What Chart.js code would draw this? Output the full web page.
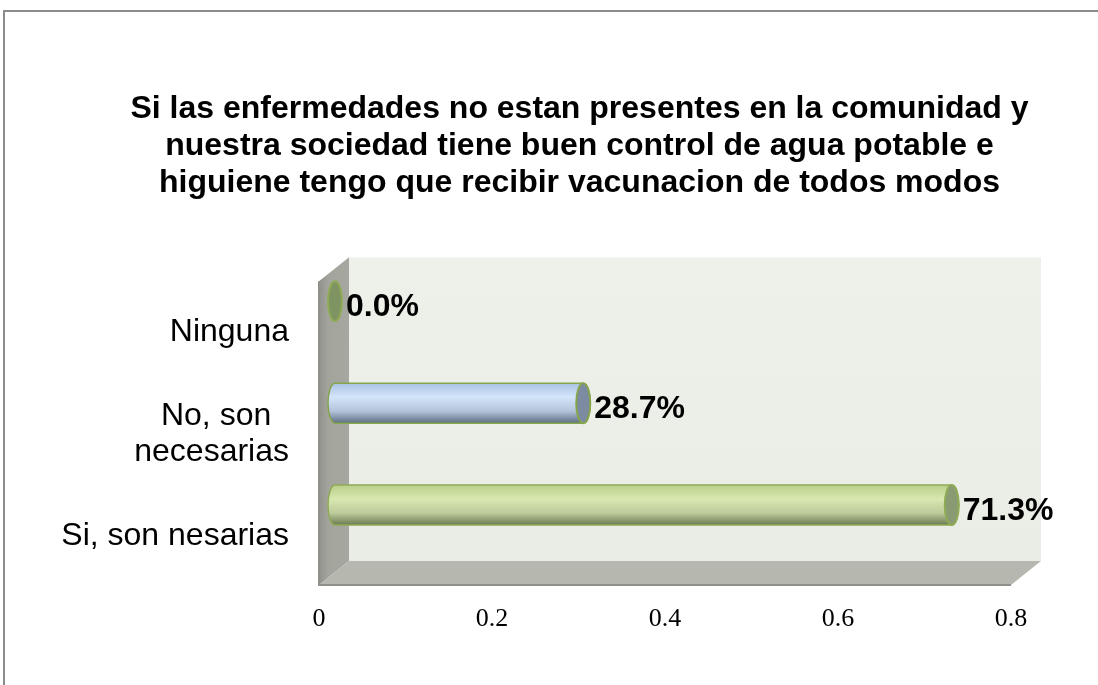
<!DOCTYPE html>
<html>
<head>
<meta charset="utf-8">
<script src="https://cdn.jsdelivr.net/npm/chart.js@4.4.0/dist/chart.umd.min.js"></script>
<style>
  html, body { margin: 0; padding: 0; background: #fff; overflow: hidden; }
  canvas { display: block; }
</style>
</head>
<body>
<canvas id="vacunaChart" width="1098" height="685"></canvas>
<script>
// datos
const categories = ['Ninguna', ['No, son  ', 'necesarias'], 'Si, son nesarias'];
const percentages = [0, 0.287, 0.713];
const xTicks = [0, 0.2, 0.4, 0.6, 0.8];
const titleLines = [
    'Si las enfermedades no estan presentes en la comunidad y',
    'nuestra sociedad tiene buen control de agua potable e',
    'higuiene tengo que recibir vacunacion de todos modos'
];

// estilo de cada cilindro
const barStyles = [
    { body: [[0, '#a9c07a'], [0.4, '#c9dc9e'], [1, '#6d7d52']], cap: '#7f9462', edge: '#8fab55' },
    { body: [[0, '#a9c2e2'], [0.35, '#d3e5fb'], [0.7, '#b3c4da'], [1, '#5d6d82']], cap: '#7d8ba1', edge: '#86a44c' },
    { body: [[0, '#b9cf8a'], [0.35, '#d8e8b0'], [0.7, '#bccb9a'], [1, '#6c7a52']], cap: '#8a9a72', edge: '#8fab55' }
];

const BAR_DX = 16, BAR_DY = -31;
const DEPTH_X = 30, DEPTH_Y = 24;

const framePlugin = {
    id: 'frame',
    beforeDraw(chart) {
        const ctx = chart.ctx;
        ctx.save();
        ctx.strokeStyle = '#8c8c8c';
        ctx.lineWidth = 2;
        ctx.beginPath();
        ctx.moveTo(4, 685);
        ctx.lineTo(4, 11);
        ctx.lineTo(1098, 11);
        ctx.stroke();
        ctx.restore();
    }
};

// paredes y piso 3D
const wallsPlugin = {
    id: 'walls',
    beforeDatasetsDraw(chart) {
        const ctx = chart.ctx;
        const ca = chart.chartArea;
        const L = ca.left, R = ca.right;
        const frontTop = ca.top, frontBot = ca.bottom - 2;
        const backTop = frontTop - DEPTH_Y, backBot = frontBot - DEPTH_Y;
        ctx.save();
        // pared del fondo
        const bg = ctx.createLinearGradient(0, backTop, 0, backBot);
        bg.addColorStop(0, '#eef1ea');
        bg.addColorStop(1, '#eaede5');
        ctx.fillStyle = bg;
        ctx.fillRect(L + DEPTH_X, backTop, R - L, backBot - backTop);
        // pared lateral
        const sg = ctx.createLinearGradient(L, 0, L + DEPTH_X, 0);
        sg.addColorStop(0, '#8f918a');
        sg.addColorStop(0.3, '#a3a59d');
        sg.addColorStop(1, '#a6a8a0');
        ctx.fillStyle = sg;
        ctx.beginPath();
        ctx.moveTo(L, frontTop);
        ctx.lineTo(L + DEPTH_X, backTop);
        ctx.lineTo(L + DEPTH_X, backBot);
        ctx.lineTo(L, frontBot);
        ctx.closePath();
        ctx.fill();
        // piso
        ctx.fillStyle = '#b6b8af';
        ctx.beginPath();
        ctx.moveTo(L, frontBot);
        ctx.lineTo(L + DEPTH_X, backBot);
        ctx.lineTo(R + DEPTH_X, backBot);
        ctx.lineTo(R, frontBot);
        ctx.closePath();
        ctx.fill();
        ctx.strokeStyle = '#8e908a';
        ctx.lineWidth = 2;
        ctx.beginPath();
        ctx.moveTo(L, frontTop);
        ctx.lineTo(L, frontBot);
        ctx.lineTo(R, frontBot);
        ctx.stroke();
        ctx.restore();
    }
};

function drawCylinder(ctx, x0, x1, cy, r, rx, st) {
    const top = cy - r, bot = cy + r;
    if (x1 - x0 > 0.5) {
        const g = ctx.createLinearGradient(0, top, 0, bot);
        st.body.forEach(s => g.addColorStop(s[0], s[1]));
        ctx.beginPath();
        ctx.moveTo(x1, top);
        ctx.lineTo(x0, top);
        ctx.ellipse(x0, cy, rx, r, 0, -Math.PI / 2, Math.PI / 2, true);
        ctx.lineTo(x1, bot);
        ctx.ellipse(x1, cy, rx, r, 0, Math.PI / 2, -Math.PI / 2, true);
        ctx.closePath();
        ctx.fillStyle = g;
        ctx.fill();
        ctx.strokeStyle = st.edge;
        ctx.lineWidth = 1.5;
        ctx.stroke();
    }
    ctx.beginPath();
    ctx.ellipse(x1, cy, rx, r, 0, 0, Math.PI * 2);
    ctx.fillStyle = st.cap;
    ctx.fill();
    ctx.strokeStyle = st.edge;
    ctx.lineWidth = 2;
    ctx.stroke();
}

const cylinderPlugin = {
    id: 'cylinders',
    afterDatasetsDraw(chart) {
        const ctx = chart.ctx;
        const meta = chart.getDatasetMeta(0);
        ctx.save();
        meta.data.forEach((el, i) => {
            const p = el.getProps(['x', 'y', 'base', 'height'], true);
            const x0 = p.base + BAR_DX, x1 = p.x + BAR_DX, cy = p.y + BAR_DY;
            drawCylinder(ctx, x0, x1, cy, p.height / 2, 7, barStyles[i]);
            const v = chart.data.datasets[0].data[i];
            ctx.fillStyle = '#000';
            ctx.font = 'bold 32px "Liberation Sans", Arial, sans-serif';
            ctx.textAlign = 'left';
            ctx.textBaseline = 'middle';
            ctx.fillText((v * 100).toFixed(1) + '%', x1 + 11, cy + 6);
        });
        ctx.restore();
    }
};

new Chart(document.getElementById('vacunaChart'), {
    type: 'bar',
    data: {
        labels: categories,
        datasets: [{
            data: percentages,
            backgroundColor: 'rgba(0,0,0,0)',
            borderWidth: 0,
            barThickness: 40
        }]
    },
    options: {
        indexAxis: 'y',
        responsive: false,
        animation: false,
        layout: { padding: { left: 61, right: 0, top: 0, bottom: 0 } },
        plugins: {
            legend: { display: false },
            tooltip: { enabled: false },
            title: {
                display: true,
                text: titleLines,
                color: '#000',
                font: { family: '"Liberation Sans", Arial, sans-serif', size: 32, weight: 'bold', lineHeight: 1.17 },
                padding: { top: 90, bottom: 79 }
            }
        },
        scales: {
            x: {
                min: 0,
                max: 0.8,
                grid: { display: false, drawTicks: false },
                border: { display: false },
                afterBuildTicks: s => { s.ticks = xTicks.map(v => ({ value: v })); },
                afterFit: s => { s.height = 98; },
                ticks: {
                    padding: 17,
                    color: '#000',
                    font: { family: '"Liberation Serif", "Times New Roman", serif', size: 26 }
                }
            },
            y: {
                grid: { display: false, drawTicks: false },
                border: { display: false },
                afterFit: s => { s.width = 258; },
                ticks: {
                    padding: 30,
                    color: '#000',
                    font: { family: '"Liberation Sans", Arial, sans-serif', size: 32, lineHeight: 1.1 }
                }
            },
            // espacio a la derecha del área del gráfico
            yRight: {
                type: 'linear',
                position: 'right',
                min: 0,
                max: 1,
                grid: { display: false, drawTicks: false },
                border: { display: false },
                ticks: { display: false },
                afterFit: s => { s.width = 87; }
            }
        }
    },
    plugins: [framePlugin, wallsPlugin, cylinderPlugin]
});
</script>
</body>
</html>
